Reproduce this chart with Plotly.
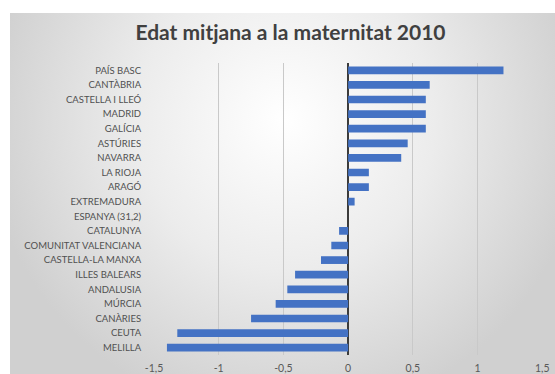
import plotly.graph_objects as go

categories = ["PAÍS BASC", "CANTÀBRIA", "CASTELLA I LLEÓ", "MADRID", "GALÍCIA",
              "ASTÚRIES", "NAVARRA", "LA RIOJA", "ARAGÓ", "EXTREMADURA",
              "ESPANYA (31,2)", "CATALUNYA", "COMUNITAT VALENCIANA", "CASTELLA-LA MANXA",
              "ILLES BALEARS", "ANDALUSIA", "MÚRCIA", "CANÀRIES", "CEUTA", "MELILLA"]
values = [1.2, 0.63, 0.6, 0.6, 0.6,
          0.46, 0.41, 0.16, 0.16, 0.05,
          0.0, -0.07, -0.13, -0.21,
          -0.41, -0.47, -0.56, -0.75, -1.32, -1.4]
x_tickvals = [-1.5, -1, -0.5, 0, 0.5, 1, 1.5]
x_ticktext = ["-1,5", "-1", "-0,5", "0", "0,5", "1", "1,5"]
title_text = "Edat mitjana a la maternitat 2010"

W, H = 555, 374
FONT = "Lato, 'Open Sans', sans-serif"

fig = go.Figure()

# background radial gradient (chart area), on pixel-scaled axes x/y
cx, cy, rx, ry = 285, 120, 300, 300
fig.add_trace(go.Scatter(
    x=[cx - rx, cx + rx, cx + rx, cx - rx, cx - rx],
    y=[cy - ry, cy - ry, cy + ry, cy + ry, cy - ry],
    mode="lines", line=dict(width=0), fill="toself",
    fillgradient=dict(type="radial", colorscale=[[0, "#ffffff"], [0.5, "#ececec"], [1, "#d0d0d0"]]),
    hoverinfo="skip", showlegend=False, xaxis="x", yaxis="y"))

# main bars
fig.add_trace(go.Bar(
    x=values, y=categories, orientation="h",
    marker=dict(color="#4472C4", line=dict(width=0)),
    xaxis="x2", yaxis="y2", showlegend=False))

px0, px1 = 154, 542.3
top, bot = 63, 355
fig.update_layout(
    width=W, height=H,
    margin=dict(l=0, r=0, t=0, b=0, autoexpand=False),
    paper_bgcolor="white", plot_bgcolor="rgba(0,0,0,0)",
    bargap=0.47,
    font=dict(family=FONT, color="#595959", size=11),
    xaxis=dict(domain=[0, 1], range=[0, W], visible=False, fixedrange=True, automargin=False),
    yaxis=dict(domain=[0, 1], range=[H, 0], visible=False, fixedrange=True, automargin=False),
    xaxis2=dict(domain=[px0 / W, px1 / W], range=[-1.5, 1.5], anchor="y2",
                tickvals=x_tickvals, ticktext=x_ticktext, automargin=False,
                showgrid=True, gridcolor="#c9c9c9", gridwidth=1,
                zeroline=True, zerolinecolor="#3b3b3b", zerolinewidth=2,
                showline=False, ticks="outside", ticklen=3, tickcolor="rgba(0,0,0,0)",
                tickfont=dict(size=10.5, color="#595959")),
    yaxis2=dict(domain=[(H - bot) / H, (H - top) / H], anchor="x2", automargin=False,
                categoryorder="array", categoryarray=categories, autorange="reversed",
                showgrid=False, zeroline=False, showline=False,
                ticks="outside", ticklen=10, tickcolor="rgba(0,0,0,0)",
                tickfont=dict(size=9.5, color="#505050")),
    title=dict(text=title_text, x=290.5 / W, xanchor="center", y=1 - 33 / H, yanchor="middle",
               font=dict(family=FONT, size=21, color="#404040", weight="bold")),
    shapes=[
        dict(type="rect", xref="paper", yref="paper", x0=0, x1=10 / W, y0=0, y1=1,
             fillcolor="white", line=dict(width=0), layer="above"),
        dict(type="rect", xref="paper", yref="paper", x0=0, x1=1, y0=1 - 13 / H, y1=1,
             fillcolor="white", line=dict(width=0), layer="above"),
    ],
)

fig.write_html("out.html", config={"displayModeBar": False},
               post_script="document.body.style.margin='0';document.body.style.overflow='hidden';")
